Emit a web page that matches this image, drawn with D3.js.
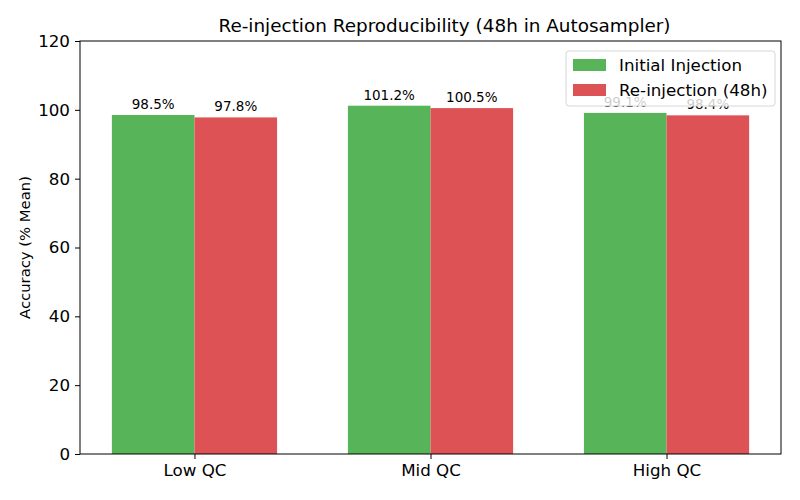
<!DOCTYPE html>
<html>
<head>
<style>
  body {
    margin: 0;
    background-color: #fff;
  }
  text {
    font-family: "DejaVu Sans", sans-serif;
  }
</style>
<script src="https://d3js.org/d3.v7.min.js"></script>
</head>
<body>
<script>
// QC levels and the two injection series
const categories = ['Low QC', 'Mid QC', 'High QC'];
const initialValues = [98.5, 101.2, 99.1];
const reinjectionValues = [97.8, 100.5, 98.4];
const seriesNames = ['Initial Injection', 'Re-injection (48h)'];
const yTicks = [0, 20, 40, 60, 80, 100, 120];

const width = 800;
const height = 500;
const margin = {top: 41, right: 19, bottom: 46, left: 80};
const barWidth = 0.35;
const colors = ['#58b458', '#dd5254'];

const svg = d3.select('body')
  .append('svg')
  .attr('width', width)
  .attr('height', height);

const x = d3.scaleLinear()
  .domain([-0.485, 2.485])
  .range([margin.left, width - margin.right]);

const y = d3.scaleLinear()
  .domain([0, 120])
  .range([height - margin.bottom, margin.top]);

// bars
const series = [initialValues, reinjectionValues];
series.forEach((values, s) => {
  const offset = s === 0 ? -barWidth / 2 : barWidth / 2;
  svg.append('g')
    .selectAll('rect')
    .data(values)
    .join('rect')
    .attr('x', (d, i) => x(i + offset - barWidth / 2))
    .attr('width', x(barWidth) - x(0))
    .attr('y', d => y(d))
    .attr('height', d => y(0) - y(d))
    .attr('fill', colors[s]);

  svg.append('g')
    .selectAll('text')
    .data(values)
    .join('text')
    .attr('x', (d, i) => x(i + offset))
    .attr('y', d => y(d) - 6)
    .attr('text-anchor', 'middle')
    .attr('font-size', '13.5px')
    .attr('fill', '#000')
    .text(d => d.toFixed(1) + '%');
});

// axes
const xAxis = d3.axisBottom(x)
  .tickValues(categories.map((c, i) => i))
  .tickFormat(i => categories[i])
  .tickSizeOuter(0)
  .tickSize(5)
  .tickPadding(5);

const yAxis = d3.axisLeft(y)
  .tickValues(yTicks)
  .tickSizeOuter(0)
  .tickSize(5)
  .tickPadding(5);

const gx = svg.append('g')
  .attr('transform', `translate(0,${height - margin.bottom})`)
  .call(xAxis);
gx.select('.domain').remove();
gx.selectAll('text').attr('font-size', '16.7px').attr('font-family', '"DejaVu Sans", sans-serif');
gx.selectAll('line').attr('stroke', '#000');

const gy = svg.append('g')
  .attr('transform', `translate(${margin.left},0)`)
  .call(yAxis);
gy.select('.domain').remove();
gy.selectAll('text').attr('font-size', '16.7px').attr('font-family', '"DejaVu Sans", sans-serif');
gy.selectAll('line').attr('stroke', '#000');

// frame
svg.append('rect')
  .attr('x', margin.left)
  .attr('y', margin.top)
  .attr('width', width - margin.left - margin.right)
  .attr('height', height - margin.top - margin.bottom)
  .attr('fill', 'none')
  .attr('stroke', '#000')
  .attr('stroke-width', 1);

// title and axis label
svg.append('text')
  .attr('x', (margin.left + width - margin.right) / 2 + 14)
  .attr('y', 32)
  .attr('text-anchor', 'middle')
  .attr('font-size', '18.4px')
  .text('Re-injection Reproducibility (48h in Autosampler)');

svg.append('text')
  .attr('transform', `translate(30,${(margin.top + height - margin.bottom) / 2}) rotate(-90)`)
  .attr('text-anchor', 'middle')
  .attr('font-size', '14.8px')
  .text('Accuracy (% Mean)');

// legend
const legend = svg.append('g')
  .attr('transform', 'translate(566,51)');

legend.append('rect')
  .attr('width', 209)
  .attr('height', 55)
  .attr('rx', 3)
  .attr('fill', '#fff')
  .attr('fill-opacity', 0.8)
  .attr('stroke', '#d6d6d6');

seriesNames.forEach((name, i) => {
  legend.append('rect')
    .attr('x', 7)
    .attr('y', 8 + i * 25)
    .attr('width', 33)
    .attr('height', 12)
    .attr('fill', colors[i]);
  legend.append('text')
    .attr('x', 53)
    .attr('y', 20 + i * 25)
    .attr('font-size', '16.7px')
    .text(name);
});
</script>
</body>
</html>
